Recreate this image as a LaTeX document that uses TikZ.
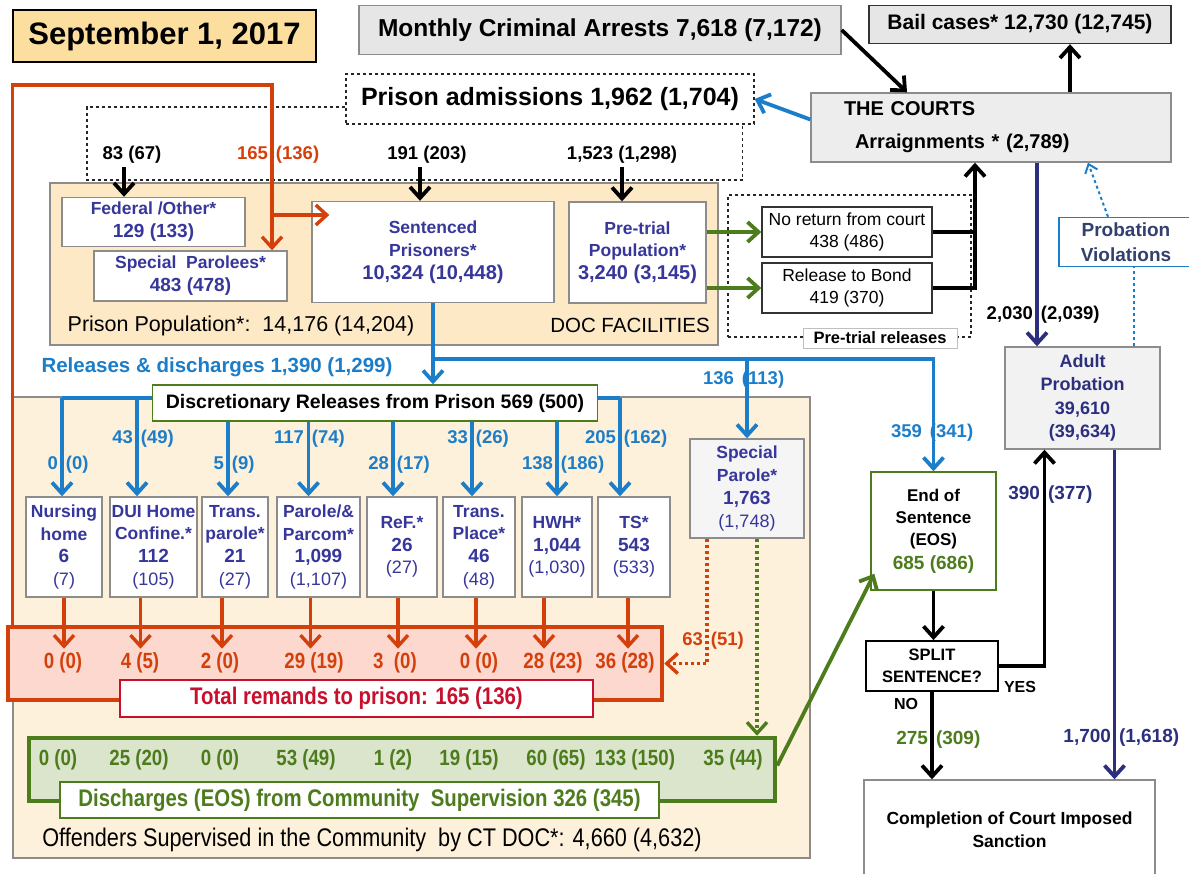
\documentclass[tikz,border=0pt]{standalone}
\usepackage{fontspec}
\setmainfont{Liberation Sans}
\newfontfamily\narrowfont[FakeStretch=0.85]{Liberation Sans}
\usetikzlibrary{arrows.meta,positioning,calc}

\definecolor{datefill}{HTML}{FCDF9F}
\definecolor{docfill}{HTML}{FDE9C6}
\definecolor{comfill}{HTML}{FEF1DB}
\definecolor{boxgray}{HTML}{E6E6E6}
\definecolor{edgegray}{HTML}{8C8C8C}
\definecolor{relblue}{HTML}{1C7DC9}
\definecolor{popblue}{HTML}{37379B}
\definecolor{remred}{HTML}{D4400C}
\definecolor{remfill}{HTML}{FCD8CF}
\definecolor{totred}{HTML}{C8102E}
\definecolor{eosgreen}{HTML}{4C7C1C}
\definecolor{disfill}{HTML}{DAE5CB}
\definecolor{probnavy}{HTML}{2B2F7E}
\definecolor{violtext}{HTML}{33406E}

\newcommand\sz[1]{\fontsize{#1pt}{1.3\dimexpr#1pt\relax}\selectfont}
\newcommand\pair[2]{\llap{#1\hspace{4pt}}\rlap{\hspace{4pt}#2}}

\tikzset{
  box/.style={draw=edgegray, line width=1.4pt, fill=white, align=center, inner sep=0pt},
  panel/.style={draw=edgegray, line width=1.4pt, inner sep=0pt},
  popbox/.style={box, text=popblue, font=\bfseries\sz{17.5}},
  rowbox/.style={popbox, minimum height=100pt},
  flowtip/.style={-{Straight Barb[length=11pt,width=20pt]}},
  blueflow/.style={draw=relblue, line width=3.8pt, flowtip},
  blackflow/.style={draw=black, line width=3.8pt, flowtip},
  navyflow/.style={draw=probnavy, line width=3.8pt, flowtip},
  greenflow/.style={draw=eosgreen, line width=3.8pt, flowtip},
  redflow/.style={draw=remred, line width=3.4pt, flowtip},
  reddots/.style={redflow, dash pattern=on 3pt off 3pt},
  greendots/.style={greenflow, line width=3.4pt, dash pattern=on 3pt off 3pt},
  frame/.style={draw=black!85, line width=1.5pt, dashed},
  bluelab/.style={text=relblue, font=\bfseries\sz{18.5}},
  remlab/.style={text=remred, font=\narrowfont\bfseries\sz{22}},
  dislab/.style={text=eosgreen, font=\narrowfont\bfseries\sz{22}}
}

\begin{document}
\begin{tikzpicture}[x=1pt, y=-1pt, font=\bfseries\sz{17}]
\useasboundingbox (0,0) rectangle (1189,874);

% background panels
\node[panel, fill=comfill, minimum width=797pt, minimum height=461pt] (community) at (411.5,627.5) {};
\node[panel, fill=docfill, minimum width=668pt, minimum height=162pt] (docfac) at (384,264) {};
\node[font=\sz{21.5}] (poplab) at (241,326) {Prison Population*:\ \ 14,176 (14,204)};
\node[font=\sz{20.5}] (doclab) at (630,325) {DOC FACILITIES};
\node[font=\narrowfont\sz{25.5}] (offlab) at (372,840) {Offenders Supervised in the Community\ \ by CT DOC*: 4,660 (4,632)};

% top row
\node[box, fill=datefill, draw=black, minimum width=303pt, minimum height=52pt, font=\bfseries\sz{31}] (date) at (164.5,36) {September 1, 2017};
\node[box, fill=boxgray, minimum width=482pt, minimum height=49pt, font=\bfseries\sz{24.5}] (arrests) at (600,30) {Monthly Criminal Arrests 7,618 (7,172)};
\node[box, fill=boxgray, draw=black!80, minimum width=302pt, minimum height=38pt, font=\bfseries\sz{21}] (bail) at (1020,24.5) {Bail cases* 12,730 (12,745)};
\node[box, draw=black!85, dashed, minimum width=408pt, minimum height=50pt, font=\bfseries\sz{25}] (admit) at (550,99) {Prison admissions 1,962 (1,704)};
\node[box, fill=boxgray!70, minimum width=360pt, minimum height=69pt, text width=294pt, align=left, font=\bfseries\sz{20}] (courts) at (991,127.5) {THE COURTS\\[7pt]\hspace*{11pt}Arraignments * (2,789)};

% admissions frame
\coordinate (framecorner) at (87,180);
\draw[frame] ([shift={(0,8)}]admit.west) -| (framecorner) -| ([shift={(-12,0)}]admit.south east);

% admissions numbers
\node[font=\bfseries\sz{18.5}] (n83) at (132,155) {83 (67)};
\node[font=\bfseries\sz{18.5}, text=remred] (n165) at (272,155) {\pair{165}{(136)}};
\node[font=\bfseries\sz{18.5}] (n191) at (427,155) {191 (203)};
\node[font=\bfseries\sz{18.5}] (n1523) at (622,155) {1,523 (1,298)};

% prison boxes
\node[popbox, minimum width=183pt, minimum height=49pt] (federal) at (153.5,222) {Federal /Other*\\\sz{19}129 (133)};
\node[popbox, minimum width=193pt, minimum height=50pt] (spp) at (190.5,276) {Special\ \ Parolees*\\\sz{19}483 (478)};
\node[popbox, minimum width=242pt, minimum height=101pt] (sentenced) at (433,252) {Sentenced\\Prisoners*\\\sz{20}10,324 (10,448)};
\node[popbox, minimum width=137pt, minimum height=101pt] (pretrialpop) at (637.5,252.5) {Pre-trial\\Population*\\\sz{20}3,240 (3,145)};

\draw[blackflow] ([xshift=-8pt]n83.south) -- ([xshift=-8pt]n83.south |- federal.north);
\draw[blackflow] ([xshift=-7pt]n191.south) -- ([xshift=-7pt]n191.south |- sentenced.north);
\draw[blackflow] (n1523.south) -- (n1523.south |- pretrialpop.north);

% pre-trial releases
\node[panel, frame, minimum width=243pt, minimum height=142pt] (ptframe) at (849.5,266) {};
\node[box, draw=black!80, minimum width=170pt, minimum height=50pt, font=\sz{17.5}] (noreturn) at (847,232) {No return from court\\438 (486)};
\node[box, draw=black!80, minimum width=170pt, minimum height=50pt, font=\sz{17.5}] (bond) at (847,288) {Release to Bond\\419 (370)};
\node[box, draw=black!25, line width=0.8pt, minimum width=154pt, minimum height=20pt, font=\bfseries\sz{16.5}] (ptlab) at (880,338) {Pre-trial releases};
\draw[greenflow] (pretrialpop.east |- noreturn) -- (noreturn.west);
\draw[greenflow] (pretrialpop.east |- bond) -- (bond.west);
\draw[draw=black, line width=3.8pt] (noreturn.east) -- ++(43,0);
\draw[blackflow] (bond.east) -| ([xshift=-16pt]courts.south);

% courts links
\draw[blackflow] (arrests.east) -- ([xshift=-84pt]courts.north);
\draw[blackflow] ([xshift=79pt]courts.north) -- ([xshift=79pt]courts.north |- bail.south);
\draw[blueflow] ([shift={(0,-8)}]courts.west) -- (admit.east);

% probation
\node[box, draw=relblue, line width=1.5pt, minimum width=134pt, minimum height=49pt, text=violtext, font=\bfseries\sz{19}] (viol) at (1126,242) {Probation\\Violations};
\node[box, fill=black!5, minimum width=155pt, minimum height=102pt, text=probnavy, font=\bfseries\sz{18}] (adultprob) at (1082.5,398) {Adult\\Probation\\39,610\\(39,634)};
\draw[navyflow] ([xshift=46pt]courts.south) -- ([xshift=46pt]courts.south |- adultprob.north);
\node[font=\bfseries\sz{18.5}] (n2030) at (1037,315) {\pair{2,030}{(2,039)}};
\draw[draw=relblue, line width=2pt, dashed, -{Straight Barb[length=8pt,width=13pt]}] ([xshift=-18pt]viol.north) -- ([xshift=97pt]courts.south);
\draw[draw=relblue, line width=2pt, dashed] ([xshift=51pt]adultprob.north) -- ([xshift=51pt]adultprob.north |- viol.south);

% releases from prison
\node[text=relblue, font=\bfseries\sz{20.5}] (rellab) at (217,367) {Releases \& discharges 1,390 (1,299)};
\node[box, draw=eosgreen, minimum width=445pt, minimum height=36pt, font=\bfseries\sz{19.5}] (disc) at (375,403) {Discretionary Releases from Prison 569 (500)};
\coordinate (relbend) at (433,359);
\draw[blueflow] (sentenced.south) -- (sentenced.south |- disc.north);

% community boxes
\node[rowbox, minimum width=76pt] (nursing) at (64,547) {Nursing\\home\\\sz{19}6\\\mdseries\sz{18}(7)};
\node[rowbox, minimum width=87pt] (dui) at (153.5,547) {DUI Home\\Confine.*\\\sz{19}112\\\mdseries\sz{18}(105)};
\node[rowbox, minimum width=66pt] (transpar) at (235,547) {Trans.\\parole*\\\sz{19}21\\\mdseries\sz{18}(27)};
\node[rowbox, minimum width=83pt] (parole) at (318.5,547) {Parole/\&\\Parcom*\\\sz{19}1,099\\\mdseries\sz{18}(1,107)};
\node[rowbox, minimum width=70pt] (ref) at (402,547) {ReF.*\\\sz{19}26\\\mdseries\sz{18}(27)};
\node[rowbox, minimum width=72pt] (transpl) at (479,547) {Trans.\\Place*\\\sz{19}46\\\mdseries\sz{18}(48)};
\node[rowbox, minimum width=70pt] (hwh) at (557,547) {HWH*\\\sz{19}1,044\\\mdseries\sz{18}(1,030)};
\node[rowbox, minimum width=72pt] (ts) at (634,547) {TS*\\\sz{19}543\\\mdseries\sz{18}(533)};
\node[rowbox, fill=black!4, minimum width=114pt, minimum height=99pt] (spparole) at (747,488.5) {Special\\Parole*\\\sz{19}1,763\\\mdseries\sz{18}(1,748)};
\draw[blueflow] (relbend -| spparole.north) -- (spparole.north);

% discretionary arrows
\coordinate (aNursing) at (62,398);
\coordinate (aDui) at (137,398);
\coordinate (aTs) at (620,398);
\draw[draw=relblue, line width=3.8pt] (disc.west |- aNursing) -- (aNursing);
\draw[draw=relblue, line width=3.8pt] (disc.east |- aTs) -- (aTs);
\draw[blueflow] (aNursing) -- (aNursing |- nursing.north);
\draw[blueflow] (aDui) -- (aDui |- dui.north);
\draw[blueflow] ([xshift=-7pt]transpar.north |- disc.south) -- ([xshift=-7pt]transpar.north);
\draw[blueflow] ([xshift=-10pt]parole.north |- disc.south) -- ([xshift=-10pt]parole.north);
\draw[blueflow] ([xshift=-9pt]ref.north |- disc.south) -- ([xshift=-9pt]ref.north);
\draw[blueflow] ([xshift=-7pt]transpl.north |- disc.south) -- ([xshift=-7pt]transpl.north);
\draw[blueflow] (hwh.north |- disc.south) -- (hwh.north);
\draw[blueflow] (aTs) -- (aTs |- ts.north);

\node[bluelab] (b1) at (62,465) {\pair{0}{(0)}};
\node[bluelab] (b2) at (137,439) {\pair{43}{(49)}};
\node[bluelab] (b3) at (228,465) {\pair{5}{(9)}};
\node[bluelab] (b4) at (308,439) {\pair{117}{(74)}};
\node[bluelab] (b5) at (393,465) {\pair{28}{(17)}};
\node[bluelab] (b6) at (472,439) {\pair{33}{(26)}};
\node[bluelab] (b7) at (557,465) {\pair{138}{(186)}};
\node[bluelab] (b8) at (620,439) {\pair{205}{(162)}};
\node[bluelab] (b9) at (738,380) {\pair{136}{(113)}};
\node[bluelab] (b10) at (926,433) {\pair{359}{(341)}};

% remands
\node[box, draw=remred, line width=4.5pt, fill=remfill, minimum width=654pt, minimum height=73pt] (remand) at (335,663.5) {};
\node[box, draw=totred, line width=1.5pt, minimum width=473pt, minimum height=37pt, text=totred, font=\narrowfont\bfseries\sz{24}] (total) at (356.5,698.5) {Total remands to prison: 165 (136)};
\draw[redflow] (nursing.south) -- ++(0,51);
\draw[redflow] ([xshift=-13pt]dui.south) -- ++(0,51);
\draw[redflow] ([xshift=-13pt]transpar.south) -- ++(0,51);
\draw[redflow] ([xshift=-8pt]parole.south) -- ++(0,51);
\draw[redflow] ([xshift=-4pt]ref.south) -- ++(0,51);
\draw[redflow] ([xshift=-3pt]transpl.south) -- ++(0,51);
\draw[redflow] ([xshift=-13pt]hwh.south) -- ++(0,51);
\draw[redflow] ([xshift=-6pt]ts.south) -- ++(0,51);
\node[remlab] (r1) at (63,663) {0 (0)};
\node[remlab] (r2) at (140,663) {4 (5)};
\node[remlab] (r3) at (220,663) {2 (0)};
\node[remlab] (r4) at (314,663) {29 (19)};
\node[remlab] (r5) at (395,663) {3\ \ (0)};
\node[remlab] (r6) at (479,663) {0 (0)};
\node[remlab] (r7) at (553,663) {28 (23)};
\node[remlab] (r8) at (625,663) {36 (28)};
\draw[reddots] ([xshift=-40pt]spparole.south) |- (remand.east);
\node[text=remred, font=\bfseries\sz{18.5}] (n63) at (707,641) {\pair{63}{(51)}};

% red return path
\coordinate (redtop) at (272,85);
\coordinate (redfork) at (272,215);
\draw[redflow] ([xshift=7pt]remand.north west) |- (redtop) -- (redtop |- spp.north);
\draw[redflow] (redfork) -- ([xshift=18pt]redfork -| sentenced.west);

% discharges
\node[box, draw=eosgreen, line width=4.5pt, fill=disfill, minimum width=746pt, minimum height=63pt] (discharge) at (402,769.5) {};
\node[box, draw=eosgreen, line width=1.5pt, minimum width=599pt, minimum height=36pt, text=eosgreen, font=\narrowfont\bfseries\sz{24}] (dislabel) at (359.5,800) {Discharges (EOS) from Community\ \ Supervision 326 (345)};
\node[dislab] (d1) at (58,760) {0 (0)};
\node[dislab] (d2) at (139,760) {25 (20)};
\node[dislab] (d3) at (220,760) {0 (0)};
\node[dislab] (d4) at (306,760) {53 (49)};
\node[dislab] (d5) at (393,760) {1 (2)};
\node[dislab] (d6) at (469,760) {19 (15)};
\node[dislab] (d7) at (556,760) {60 (65)};
\node[dislab] (d8) at (635,760) {133 (150)};
\node[dislab] (d9) at (733,760) {35 (44)};
\draw[greendots] ([xshift=10pt]spparole.south) -- ([xshift=10pt]spparole.south |- discharge.north);

% end of sentence
\node[box, draw=eosgreen, minimum width=125pt, minimum height=118pt, font=\bfseries\sz{17}] (eos) at (933.5,531) {End of\\Sentence\\(EOS)\\[2pt]\textcolor{eosgreen}{\sz{19}685 (686)}};
\draw[blueflow] (relbend) -| (eos.north);
\draw[greenflow] ([shift={(0,-4)}]discharge.east) -- ([shift={(4,-17)}]eos.south west);
\node[box, draw=black, line width=1.8pt, minimum width=132pt, minimum height=50pt, font=\bfseries\sz{16.5}] (split) at (932,666) {SPLIT\\SENTENCE?};
\node[box, minimum width=291pt, minimum height=100pt, font=\bfseries\sz{17.5}] (completion) at (1009.5,830) {Completion of Court Imposed\\Sanction};
\draw[blackflow] (eos.south) -- (eos.south |- split.north);
\draw[blackflow] (split.east) -| ([xshift=-38pt]adultprob.south);
\draw[blackflow] (split.south) -- (split.south |- completion.north);
\draw[navyflow] ([xshift=32pt]adultprob.south) -- ([xshift=32pt]adultprob.south |- completion.north);
\node[font=\bfseries\sz{16}] (yes) at (1020,687) {YES};
\node[font=\bfseries\sz{16}] (no) at (906,704) {NO};
\node[text=probnavy, font=\bfseries\sz{19}] (n390) at (1044,495) {\pair{390}{(377)}};
\node[text=eosgreen, font=\bfseries\sz{19}] (n275) at (932,740) {\pair{275}{(309)}};
\node[text=probnavy, font=\bfseries\sz{19}] (n1700) at (1115,738) {\pair{1,700}{(1,618)}};
\end{tikzpicture}
\end{document}
